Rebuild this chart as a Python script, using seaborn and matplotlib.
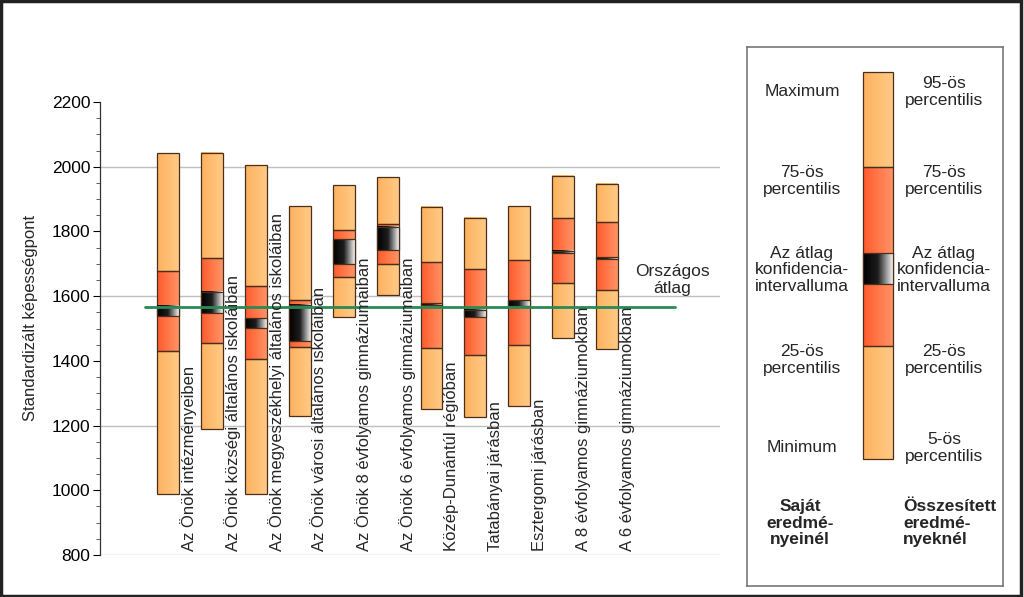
import numpy as np
import pandas as pd
import matplotlib
matplotlib.use('Agg')
import matplotlib.pyplot as plt
from matplotlib.patches import Rectangle
from matplotlib.colors import LinearSegmentedColormap
import seaborn as sns


# Data
categories = ['Az Önök intézményeiben',
              'Az Önök községi általános iskoláiban',
              'Az Önök megyeszékhelyi általános iskoláiban',
              'Az Önök városi általános iskoláiban',
              'Az Önök 8 évfolyamos gimnáziumaiban',
              'Az Önök 6 évfolyamos gimnáziumaiban',
              'Közép-Dunántúl régióban',
              'Tatabányai járásban',
              'Esztergomi járásban',
              'A 8 évfolyamos gimnáziumokban',
              'A 6 évfolyamos gimnáziumokban']
minimum = [988, 1188, 988, 1230, 1536, 1604, 1250, 1226, 1260, 1470, 1437]
p25 = [1430, 1456, 1405, 1443, 1660, 1699, 1439, 1418, 1449, 1641, 1618]
ci_low = [1538, 1547, 1503, 1461, 1699, 1743, 1572, 1534, 1570, 1732, 1714]
ci_high = [1569, 1614, 1531, 1573, 1776, 1815, 1578, 1557, 1588, 1739, 1720]
p75 = [1678, 1717, 1632, 1588, 1804, 1823, 1706, 1684, 1712, 1840, 1828]
maximum = [2042, 2042, 2005, 1878, 1942, 1967, 1876, 1843, 1878, 1972, 1948]
national_avg = 1567

y_label = 'Standardizált képességpont'
avg_label = 'Országos\nátlag'

legend_left = ['Maximum', '75-ös\npercentilis', 'Az átlag\nkonfidencia-\nintervalluma',
               '25-ös\npercentilis', 'Minimum']
legend_right = ['95-ös\npercentilis', '75-ös\npercentilis', 'Az átlag\nkonfidencia-\nintervalluma',
                '25-ös\npercentilis', '5-ös\npercentilis']
legend_left_title = 'Saját\neredmé-\nnyeinél'
legend_right_title = 'Összesített\neredmé-\nnyeknél'

sns.set_theme(style='white')
plt.rcParams['font.family'] = ['Liberation Sans', 'DejaVu Sans']

light_cmap = LinearSegmentedColormap.from_list('light', ['#fdb25e', '#ffca86'])
red_cmap = LinearSegmentedColormap.from_list('red', ['#ff5a2c', '#ff9466'])
ci_cmap = LinearSegmentedColormap.from_list('ci', ['#000000', '#1e1e1e', '#f2f2f2'])
edge = '#4a2e1a'
grad = np.linspace(0, 1, 64).reshape(1, -1)


def grad_box(ax, x0, x1, y0, y1, cmap, z=2):
    """ Gradient filled rectangle with a thin dark outline """
    ax.imshow(grad, cmap=cmap, extent=[x0, x1, y0, y1], aspect='auto',
              interpolation='bilinear', zorder=z)
    ax.add_patch(Rectangle((x0, min(y0, y1)), x1 - x0, abs(y1 - y0), fill=False,
                           edgecolor=edge, lw=0.9, zorder=z + 0.5))


fig = plt.figure(figsize=(10.24, 5.97), dpi=100)
ax = fig.add_axes([100 / 1024, 42 / 597, 620 / 1024, 453 / 597])

n = len(categories)
width = 0.5
for i in range(n):
    x0, x1 = i - width / 2, i + width / 2
    grad_box(ax, x0, x1, minimum[i], p25[i], light_cmap)
    grad_box(ax, x0, x1, p25[i], p75[i], red_cmap)
    grad_box(ax, x0, x1, p75[i], maximum[i], light_cmap)
    grad_box(ax, x0, x1, ci_low[i], ci_high[i], ci_cmap, z=3)
    ax.text(i + 0.46, 813, categories[i], rotation=90, ha='center', va='bottom',
            fontsize=12, zorder=6)

# gridlines every 400
for g in range(800, 2201, 400):
    ax.axhline(g, color='#c0c0c0', lw=1, zorder=1)

avg_df = pd.DataFrame({'x': [-0.52, n + 0.55], 'y': [national_avg, national_avg]})
sns.lineplot(data=avg_df, x='x', y='y', ax=ax, color='#2a8a55', lw=2, zorder=5)
ax.text(n + 0.48, national_avg + 83, avg_label, ha='center', va='center',
        fontsize=12.5, linespacing=1.1)

ax.set_xlim(-1.55, 12.57)
ax.set_ylim(800, 2200)
ax.set_yticks(range(800, 2201, 200))
ax.set_yticks(range(800, 2201, 50), minor=True)
ax.set_xticks([])
ax.set_xlabel('')
ax.set_ylabel('')
ax.tick_params(axis='y', which='major', left=True, direction='out', length=5,
               width=0.8, labelsize=12.5, pad=2, colors='black')
ax.tick_params(axis='y', which='minor', left=True, direction='out', length=3,
               width=0.6, colors='#444444')
for s in ['top', 'right', 'bottom']:
    ax.spines[s].set_visible(False)
ax.spines['left'].set_color('#333333')
ax.spines['left'].set_linewidth(0.9)
ax.patch.set_alpha(0)

fig.text(31 / 1024, 1 - 318 / 597, y_label, rotation=90, ha='center', va='center', fontsize=12)

# legend panel (pixel-like coordinates)
lg = fig.add_axes([747 / 1024, 1 - 586 / 597, 256 / 1024, 539 / 597])
lg.set_xticks([])
lg.set_yticks([])
for s in lg.spines.values():
    s.set_color('#777777')
    s.set_linewidth(1.2)

bar_x0, bar_x1 = 863, 893
grad_box(lg, bar_x0, bar_x1, 459, 346, light_cmap)
grad_box(lg, bar_x0, bar_x1, 346, 167, red_cmap)
grad_box(lg, bar_x0, bar_x1, 167, 72, light_cmap)
grad_box(lg, bar_x0, bar_x1, 284, 253, ci_cmap, z=3)
lg.set_xlim(747, 1003)
lg.set_ylim(586, 47)

row_y = [92, 181, 270, 360, 448]
for txt, yy in zip(legend_left, row_y):
    lg.text(802, yy, txt, ha='center', va='center', fontsize=12.5, linespacing=1.15)
for txt, yy in zip(legend_right, row_y):
    lg.text(944, yy, txt, ha='center', va='center', fontsize=12.5, linespacing=1.15)
lg.text(800, 523, legend_left_title, ha='center', va='center', fontsize=12.5,
        fontweight='bold', linespacing=1.15)
lg.text(903, 523, legend_right_title, ha='left', va='center', fontsize=12.5,
        fontweight='bold', linespacing=1.15)

# outer frame
fig.add_artist(Rectangle((0.001, 0.002), 0.996, 0.996, transform=fig.transFigure,
                         fill=False, edgecolor='#222222', lw=2.5))

fig.savefig('out.png', dpi=100)
